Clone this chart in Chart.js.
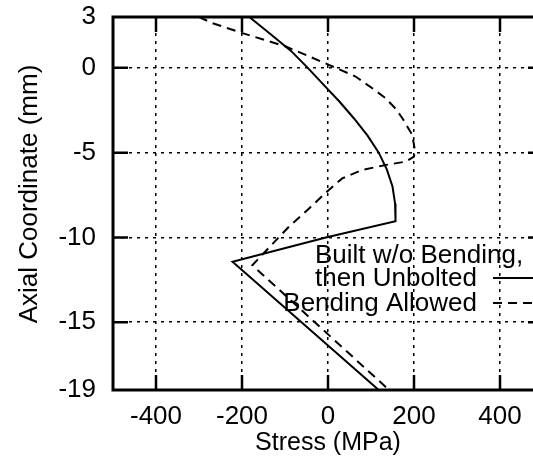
<!DOCTYPE html>
<html>
<head>
<meta charset="utf-8">
<script src="https://cdn.jsdelivr.net/npm/chart.js@4.4.1/dist/chart.umd.min.js"></script>
<style>
  html, body { margin: 0; padding: 0; background: #fff; }
  #wrap { width: 533px; height: 456px; overflow: hidden; }
  canvas { display: block; }
</style>
</head>
<body>
<div id="wrap"><canvas id="stressChart" width="546" height="456"></canvas></div>
<script>
// axial position (mm) and stress (MPa) along the part
const solidAxial  = [3, 2, 1, 0, -1, -2, -3, -4, -5, -6, -7, -8, -9, -9.05, -10, -11.44, -19];
const solidStress = [-183, -134, -86, -47, -10, 27, 61, 92, 118, 137, 150, 156, 157, 157, -5, -222, 118];

const bentAxial  = [3, 2.64, 2.05, 1.26, 0.18, -0.51, -1.2, -1.79, -2.4, -2.97, -3.96, -4.84, -5.23, -5.53, -5.73, -6.02, -6.52, -7.2, -8.29, -9.37, -11.64, -19];
const bentStress = [-300, -269, -199, -98, 2, 64, 103, 134, 157, 173, 196, 202, 200, 181, 134, 80, 33, 2, -44, -91, -176, 142];

const stressTicks = [-400, -200, 0, 200, 400];
const axialTicks = [3, 0, -5, -10, -15, -19];

const seriesNames = [['Built w/o Bending,', 'then Unbolted'], ['Bending Allowed']];
const axialTitle = 'Axial Coordinate (mm)';

const FONT = "'Liberation Sans', Arial, Helvetica, sans-serif";
const dashPattern = [9, 6];

function toPoints(xs, ys) {
    return xs.map((x, i) => ({ x: x, y: ys[i] }));
}

// frame, inward tick marks, y title and the key
const framePlugin = {
    id: 'frame',
    afterDraw(chart) {
        const ctx = chart.ctx;
        const a = chart.chartArea;
        const xs = chart.scales.x, ys = chart.scales.y;
        ctx.save();
        ctx.strokeStyle = '#000';
        ctx.lineWidth = 3;
        ctx.strokeRect(a.left, a.top, a.right - a.left, a.bottom - a.top);

        ctx.lineWidth = 2.5;
        const tl = 15;
        ctx.beginPath();
        stressTicks.forEach(v => {
            const px = xs.getPixelForValue(v);
            ctx.moveTo(px, a.bottom); ctx.lineTo(px, a.bottom - tl);
            ctx.moveTo(px, a.top); ctx.lineTo(px, a.top + tl);
        });
        axialTicks.slice(1, -1).forEach(v => {
            const py = ys.getPixelForValue(v);
            ctx.moveTo(a.left, py); ctx.lineTo(a.left + tl, py);
            ctx.moveTo(a.right, py); ctx.lineTo(a.right - tl, py);
        });
        ctx.stroke();

        ctx.fillStyle = '#000';

        // y axis title, sits a little above the middle of the axis
        ctx.save();
        ctx.font = '26px ' + FONT;
        ctx.translate(37, 194);
        ctx.rotate(-Math.PI / 2);
        ctx.textAlign = 'center';
        ctx.textBaseline = 'alphabetic';
        ctx.fillText(axialTitle, 0, 0);
        ctx.restore();

        // key
        ctx.font = '26px ' + FONT;
        ctx.textBaseline = 'alphabetic';
        ctx.textAlign = 'left';
        ctx.fillText(seriesNames[0][0], 315, 263);
        ctx.fillText(seriesNames[0][1], 315, 286);
        ctx.textAlign = 'right';
        ctx.fillText(seriesNames[1][0], 477, 311);

        ctx.lineWidth = 2;
        ctx.beginPath();
        ctx.moveTo(493, 278); ctx.lineTo(a.right, 278);
        ctx.stroke();
        ctx.setLineDash(dashPattern);
        ctx.beginPath();
        ctx.moveTo(493, 303); ctx.lineTo(a.right, 303);
        ctx.stroke();
        ctx.restore();
    }
};

function initChart() {
    const ctx = document.getElementById('stressChart').getContext('2d');
    window.myChart = new Chart(ctx, {
        type: 'scatter',
        data: {
            datasets: [{
                label: seriesNames[0].join(' '),
                data: toPoints(solidStress, solidAxial),
                showLine: true,
                borderColor: '#000',
                borderWidth: 2,
                pointRadius: 0,
                tension: 0
            }, {
                label: seriesNames[1][0],
                data: toPoints(bentStress, bentAxial),
                showLine: true,
                borderColor: '#000',
                borderWidth: 2,
                borderDash: dashPattern,
                pointRadius: 0,
                tension: 0
            }]
        },
        options: {
            responsive: false,
            animation: false,
            devicePixelRatio: 1,
            layout: { padding: { top: 17, right: 3, left: 0, bottom: 0 } },
            plugins: { legend: { display: false }, tooltip: { enabled: false } },
            scales: {
                x: {
                    type: 'linear',
                    min: -500,
                    max: 500,
                    afterBuildTicks: s => { s.ticks = stressTicks.map(v => ({ value: v })); },
                    afterFit: s => { s.height = 66; },
                    grid: { color: '#000', lineWidth: 1.5, drawTicks: false },
                    border: { display: false, dash: [3, 5] },
                    ticks: { color: '#000', padding: 11, maxRotation: 0, font: { family: FONT, size: 26 } },
                    title: { display: true, text: 'Stress (MPa)', color: '#000', padding: { top: 0, bottom: 0 }, font: { family: FONT, size: 25, lineHeight: 1.0 } }
                },
                y: {
                    type: 'linear',
                    min: -19,
                    max: 3,
                    afterBuildTicks: s => { s.ticks = axialTicks.map(v => ({ value: v })); },
                    afterFit: s => { s.width = 113; s.paddingTop = 0; s.paddingBottom = 0; },
                    grid: { color: '#000', lineWidth: 1.5, drawTicks: false },
                    border: { display: false, dash: [3, 5] },
                    ticks: { color: '#000', padding: 17, font: { family: FONT, size: 26 } },
                    title: { display: false }
                }
            }
        },
        plugins: [framePlugin]
    });
}

window.onload = initChart;
</script>
</body>
</html>
